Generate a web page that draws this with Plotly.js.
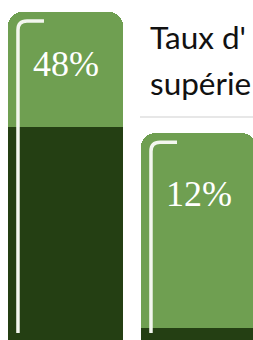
<!DOCTYPE html>
<html>
<head>
<meta charset="utf-8">
<script src="https://cdn.plot.ly/plotly-3.0.1.min.js"></script>
<style>
  html, body { margin: 0; padding: 0; background: #ffffff; }
  #chart { width: 253px; height: 340px; }
</style>
</head>
<body>
<div id="chart"></div>
<script>
// ---- data ----
const categories = ['Barre 1', 'Barre 2'];
const rates = [48, 12];              // dark lower segment, labelled value (%)
const upperSegment = [20.6, 34.9];   // light upper segment (estimated)
const labels = ['48%', '12%'];
const titleLines = ["Taux d'", 'supérie'];

// ---- styles ----
const W = 253, H = 340;
const lightGreen = '#6f9f51';
const darkGreen = '#243f13';
const hookColor = '#f3f6ef';
const xRange = [-0.4925, 1.4098];
const yRange = [9.85, 70.75];
const barFrac = 0.865;
const labelShift = [30, 39];

const xPerPx = (xRange[1] - xRange[0]) / W;
const yPerPx = (yRange[1] - yRange[0]) / H;
const xs = categories.map((c, i) => i);
const totals = rates.map((v, i) => v + upperSegment[i]);

const traces = [
  { type: 'bar', x: xs, y: rates, marker: { color: darkGreen }, hoverinfo: 'skip', text: categories, textposition: 'none' },
  { type: 'bar', x: xs, y: upperSegment, marker: { color: lightGreen }, hoverinfo: 'skip', textposition: 'none' }
];

// hook decoration inside each bar
const shapes = xs.map((x, i) => {
  const left = x - barFrac / 2;
  const xv = left + 10 * xPerPx;
  const xe = left + 36 * xPerPx;
  const yt = totals[i] - 9 * yPerPx;
  const yb = yRange[0] + 7 * yPerPx;
  const rx = 9 * xPerPx, ry = 9 * yPerPx;
  return {
    type: 'path', xref: 'x', yref: 'y',
    path: `M ${xv},${yb} L ${xv},${yt - ry} Q ${xv},${yt} ${xv + rx},${yt} L ${xe},${yt}`,
    line: { color: hookColor, width: 3.5 },
    layer: 'above'
  };
});
shapes.push({
  type: 'line', xref: 'paper', yref: 'paper',
  x0: 140 / W, x1: 1, y0: 1 - 117 / H, y1: 1 - 117 / H,
  line: { color: '#cfcfcf', width: 1 }
});

const annotations = xs.map((x, i) => ({
  x: x, y: totals[i], xref: 'x', yref: 'y',
  text: labels[i], showarrow: false, yanchor: 'top', yshift: -labelShift[i],
  font: { family: 'Liberation Serif, serif', size: 36, color: '#ffffff' }
}));
annotations.push({
  xref: 'paper', yref: 'paper', x: 148 / W, y: 1 - 37 / H, xanchor: 'left', yanchor: 'middle',
  text: titleLines[0], showarrow: false,
  font: { family: 'Lato, sans-serif', size: 31.5, color: '#111111' }
});
annotations.push({
  xref: 'paper', yref: 'paper', x: 148 / W, y: 1 - 83 / H, xanchor: 'left', yanchor: 'middle',
  text: titleLines[1], showarrow: false,
  font: { family: 'Lato, sans-serif', size: 31.5, color: '#111111' }
});

const layout = {
  width: W, height: H,
  margin: { l: 0, r: 0, t: 0, b: 0, pad: 0 },
  paper_bgcolor: '#ffffff', plot_bgcolor: '#ffffff',
  barmode: 'stack', bargap: 1 - barFrac, barcornerradius: 14,
  showlegend: false,
  xaxis: { range: xRange, visible: false, fixedrange: true },
  yaxis: { range: yRange, visible: false, fixedrange: true },
  shapes: shapes,
  annotations: annotations
};

Plotly.newPlot('chart', traces, layout, { displayModeBar: false, staticPlot: true });
</script>
</body>
</html>
